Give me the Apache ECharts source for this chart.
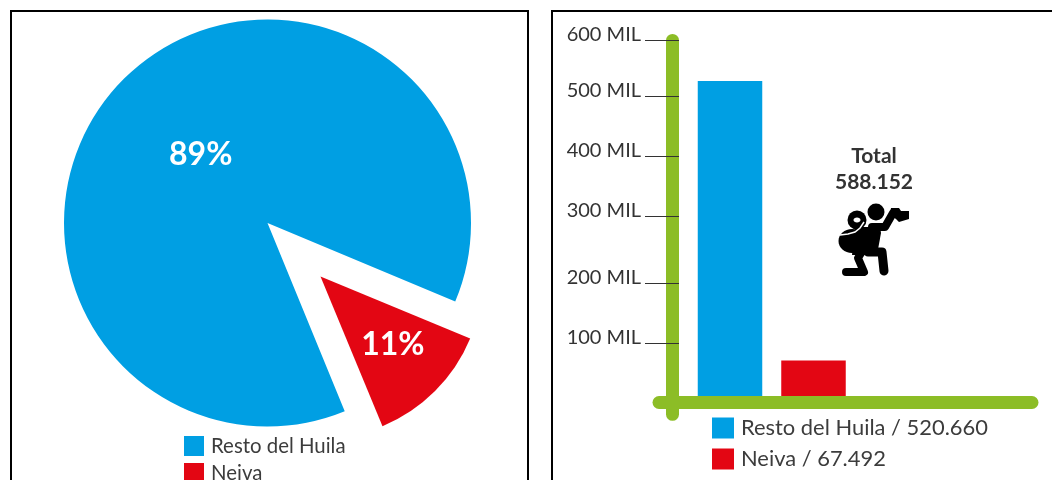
<!DOCTYPE html>
<html><head><meta charset="utf-8">
<style>html,body{margin:0;padding:0;background:#fff;overflow:hidden}#c{width:1052px;height:480px}</style>
<script src="https://cdn.jsdelivr.net/npm/echarts@6/dist/echarts.min.js"></script>
</head><body><div id="c"></div>
<script>
const names = ['Resto del Huila', 'Neiva'];
const values = [520660, 67492];
const valueLabels = ['520.660', '67.492'];
const pieLabels = ['89%', '11%'];
// slice sweep as measured on the picture, in degrees
const sliceSweep = [315, 45];
const yTickLabels = ['100 MIL', '200 MIL', '300 MIL', '400 MIL', '500 MIL', '600 MIL'];
// where each hand-placed tick sits on the bars' scale in the picture
const yTickPositions = [95600, 192900, 301500, 398700, 496000, 586700];
const totalLabel = 'Total\n588.152';

const BLUE = '#009FE3', RED = '#E30613', GREEN = '#8CBD26';
const FONT = 'Lato';
const YMIN = -20000, YMAX = 586700;

const chart = echarts.init(document.getElementById('c'), null, {renderer: 'canvas'});
const blk = {fill: '#000'};
const limb = (points, w) => ({type: 'polyline', z: 20, shape: {points, smooth: 0},
  style: {stroke: '#000', lineWidth: w, fill: null, lineCap: 'round', lineJoin: 'round'}});
chart.setOption({
  animation: false,
  backgroundColor: '#fff',
  textStyle: {fontFamily: FONT},
  title: {
    text: totalLabel, left: 869, top: 138, textAlign: 'center',
    textStyle: {fontFamily: FONT, fontWeight: 'bold', fontSize: 21, lineHeight: 26, color: '#333'}
  },
  legend: [
    {left: 179, top: 431, height: 120, orient: 'vertical', data: names, itemWidth: 20, itemHeight: 20, itemGap: 7,
     icon: 'rect', selectedMode: false,
     textStyle: {fontFamily: FONT, fontSize: 20.4, color: '#3c3c3c', padding: [0, 0, 0, 2]}},
    {left: 707, top: 412, height: 120, orient: 'vertical', data: names.map((n, i) => n + ' / ' + valueLabels[i]),
     itemWidth: 22, itemHeight: 21, itemGap: 9, icon: 'rect', selectedMode: false,
     textStyle: {fontFamily: FONT, fontSize: 21.9, color: '#3c3c3c', padding: [0, 0, 0, 2]}}
  ],
  grid: [
    {left: 659, right: 20, top: 40.4, height: 373.9},
    {left: 688.25, width: 167, top: 40.4, height: 373.9}
  ],
  xAxis: [
    {gridIndex: 0, type: 'value', min: 0, max: 1, z: 5, splitLine: {show: false},
     axisLabel: {show: false}, axisTick: {show: false},
     axisLine: {show: true, onZero: true, onZeroAxisIndex: 1, lineStyle: {color: GREEN, width: 13, cap: 'round'}}},
    {gridIndex: 1, type: 'category', data: names, axisLabel: {show: false},
     axisTick: {show: false}, axisLine: {show: false}}
  ],
  yAxis: [
    {gridIndex: 0, type: 'value', min: YMIN, max: YMAX, position: 'left', offset: -20, z: 6,
     splitLine: {show: false}, axisLine: {show: false},
     axisTick: {show: true, length: 34, customValues: yTickPositions, lineStyle: {color: '#333', width: 1}},
     axisLabel: {show: true, margin: 38, customValues: yTickPositions, fontFamily: FONT, fontSize: 20,
       color: '#333', verticalAlign: 'bottom', lineHeight: 12, showMinLabel: true, showMaxLabel: true,
       formatter: v => yTickLabels[yTickPositions.indexOf(v)] || ''}},
    {gridIndex: 0, type: 'value', min: YMIN, max: YMAX, position: 'left', offset: -13.5, z: 5,
     splitLine: {show: false}, axisTick: {show: false}, axisLabel: {show: false},
     axisLine: {show: true, onZero: false, lineStyle: {color: GREEN, width: 13, cap: 'round'}}},
    {gridIndex: 1, type: 'value', min: YMIN, max: YMAX, show: false, splitLine: {show: false}}
  ],
  series: [
    {type: 'pie', silent: true, center: [267.5, 223], radius: 203.5, startAngle: -67.7, clockwise: true,
     labelLine: {show: false}, z: 3,
     label: {show: true, position: 'inner', formatter: pieLabels[0], color: '#fff', fontFamily: FONT,
       fontWeight: 'bold', fontSize: 32},
     labelLayout: {dx: 7, dy: 6},
     data: [
       {name: names[0], value: sliceSweep[0], itemStyle: {color: BLUE}},
       {name: '', value: sliceSweep[1], itemStyle: {color: 'rgba(0,0,0,0)'}, label: {show: false}}
     ]},
    {type: 'pie', silent: true, center: [320.5, 276.5], radius: 162, startAngle: -22.5, clockwise: true,
     labelLine: {show: false}, z: 3,
     label: {show: true, position: 'inner', formatter: pieLabels[1], color: '#fff', fontFamily: FONT,
       fontWeight: 'bold', fontSize: 32},
     labelLayout: {dx: 13, dy: 9},
     data: [
       {name: names[1], value: sliceSweep[1], itemStyle: {color: RED}},
       {name: ' ', value: sliceSweep[0], itemStyle: {color: 'rgba(0,0,0,0)'}, label: {show: false}}
     ]},
    {type: 'bar', name: names[0] + ' / ' + valueLabels[0], xAxisIndex: 1, yAxisIndex: 2, stack: 'b',
     barWidth: 64.5, itemStyle: {color: BLUE}, data: [values[0], null]},
    {type: 'bar', name: names[1] + ' / ' + valueLabels[1], xAxisIndex: 1, yAxisIndex: 2, stack: 'b',
     barWidth: 64.5, itemStyle: {color: RED}, data: [null, values[1]]}
  ],
  graphic: [
    {type: 'rect', z: -1, silent: true, shape: {x: 11, y: 11, width: 517, height: 500},
     style: {fill: null, stroke: '#000', lineWidth: 2}},
    {type: 'rect', z: -1, silent: true, shape: {x: 552, y: 11, width: 520, height: 500},
     style: {fill: null, stroke: '#000', lineWidth: 2}},
    // photographer pictogram
    {type: 'circle', z: 20, shape: {cx: 876, cy: 212, r: 8.5}, style: blk},
    {type: 'polygon', z: 20, shape: {points: [[891,208],[899,208],[901,211],[909,211],[909,219],[899,222],[896,219],[890,215]]}, style: blk},
    limb([[872,227],[885,227],[893,213]], 8),
    {type: 'polygon', z: 20, shape: {points: [[855,227],[880,227],[881,233],[877,255],[852,255]]}, style: blk},
    {type: 'ellipse', z: 20, shape: {cx: 852, cy: 241, rx: 13.5, ry: 12}, style: blk},
    {type: 'circle', z: 21, shape: {cx: 857, cy: 220, r: 9.5}, style: blk},
    {type: 'ellipse', z: 22, shape: {cx: 857, cy: 220, rx: 3.5, ry: 2.5}, style: {fill: '#fff'}},
    {type: 'polyline', z: 22, shape: {points: [[840,235],[848,234],[855,232],[860,228],[864,222]]},
     style: {stroke: '#fff', lineWidth: 1.5, fill: null}},
    limb([[863,250],[858,258],[864,272],[846,272]], 8),
    limb([[868,252],[882,252],[884,271]], 9)
  ]
});
</script></body></html>
